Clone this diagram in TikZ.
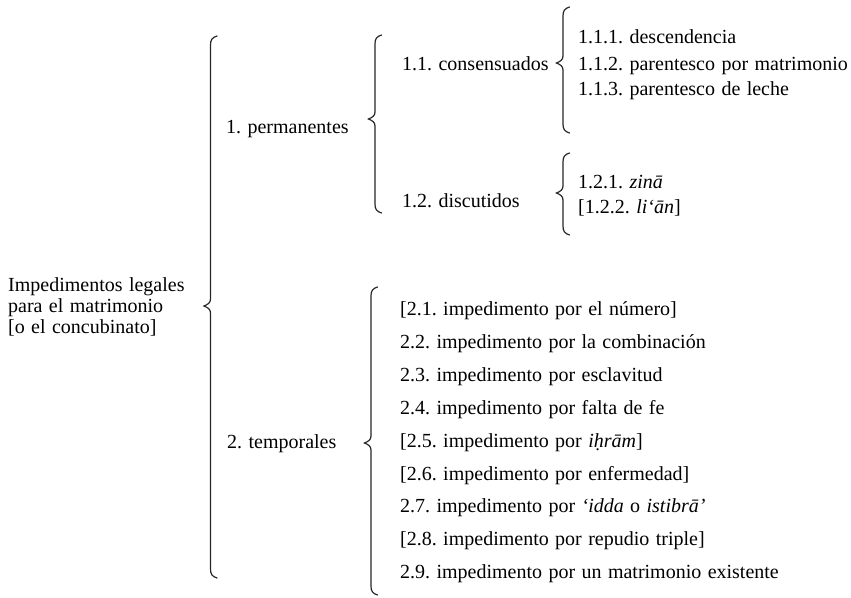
\documentclass[tikz,border=0pt]{standalone}
\usepackage{fontspec}
\setmainfont{Liberation Serif}
\frenchspacing
\newcommand\txtfont{\fontsize{20}{22}\selectfont\spaceskip 6.4pt\relax}
\begin{document}
\begin{tikzpicture}[x=1pt,y=-1pt,
  txt/.style={anchor=base west,inner sep=0pt,font=\txtfont},
  bracestyle/.style={draw=black!85,line width=1.2pt,line cap=round}]
\useasboundingbox (0,0) rectangle (851,597);
\newcommand\mybrace[4]{%
  \draw[bracestyle] (#1+6.5,#2) .. controls (#1+1.5,#2+1.5) and (#1,#2+4) .. (#1,#2+9)
    -- (#1,#3-7) .. controls (#1,#3-3) and (#1-3,#3-1.5) .. (#1-6.5,#3)
    .. controls (#1-3,#3+1.5) and (#1,#3+3) .. (#1,#3+7)
    -- (#1,#4-9) .. controls (#1,#4-4) and (#1+1.5,#4-1.5) .. (#1+6.5,#4);}
% root
\node[txt] (r1) at (8,291) {Impedimentos legales};
\node[txt] (r2) at (8,312) {para el matrimonio};
\node[txt] (r3) at (8,333) {[o el concubinato]};
\mybrace{210.5}{36}{306}{578}
% level 1
\node[txt] (p) at (226,133) {1. permanentes};
\node[txt] (t) at (227,448) {2. temporales};
\mybrace{375}{35}{119}{213}
\mybrace{371}{287}{443}{595}
% level 2
\node[txt] (c) at (402,70) {1.1. consensuados};
\node[txt] (d) at (402,207) {1.2. discutidos};
\mybrace{563}{7}{63}{133}
\mybrace{563}{153}{193}{235}
% leaves 1.1
\node[txt] (a1) at (578,43) {1.1.1. descendencia};
\node[txt] (a2) at (578,70) {1.1.2. parentesco por matrimonio};
\node[txt] (a3) at (578,95.5) {1.1.3. parentesco de leche};
% leaves 1.2
\node[txt] (b1) at (578,188) {1.2.1. \textit{zinā}};
\node[txt] (b2) at (578,213) {[1.2.2. \textit{li‘ān}]};
% leaves 2
\node[txt] (e1) at (400,315) {[2.1. impedimento por el número]};
\node[txt] (e2) at (400,348) {2.2. impedimento por la combinación};
\node[txt] (e3) at (400,381) {2.3. impedimento por esclavitud};
\node[txt] (e4) at (400,414) {2.4. impedimento por falta de fe};
\node[txt] (e5) at (400,447) {[2.5. impedimento por \textit{iḥrām}]};
\node[txt] (e6) at (400,480) {[2.6. impedimento por enfermedad]};
\node[txt] (e7) at (400,512.5) {2.7. impedimento por \textit{‘idda} o \textit{istibrā’}};
\node[txt] (e8) at (400,545.5) {[2.8. impedimento por repudio triple]};
\node[txt] (e9) at (400,578) {2.9. impedimento por un matrimonio existente};
\end{tikzpicture}
\end{document}
